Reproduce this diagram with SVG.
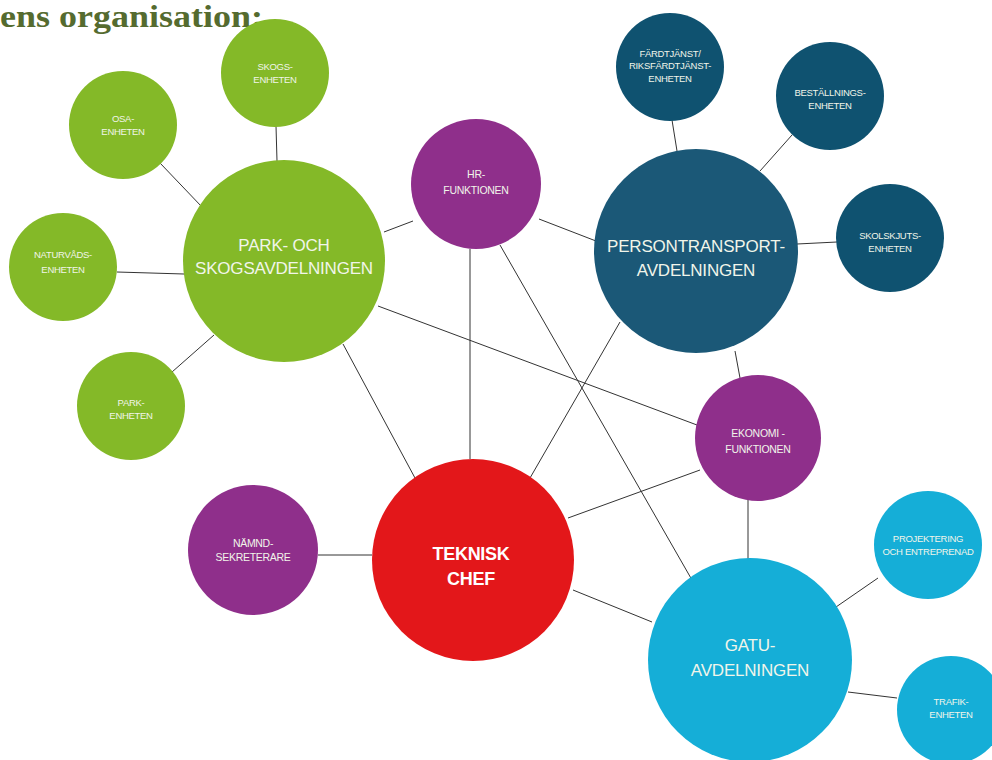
<svg xmlns="http://www.w3.org/2000/svg" width="992" height="760" viewBox="0 0 992 760">
  <style>
    .title { font-family: "Liberation Serif", "Times New Roman", serif; font-weight: bold; font-size: 31px; fill: #556b2f; }
    .green { fill: #84b928; }
    .blue { fill: #0f5270; }
    .blue-big { fill: #1b5877; }
    .purple { fill: #8f2f8b; }
    .red { fill: #e3171a; }
    .cyan { fill: #15aed7; }
    .lbl { font-family: "Liberation Sans", Arial, sans-serif; fill: #f1f5ea; text-anchor: middle; letter-spacing: -0.3px; }
    .s { font-size: 9.5px; }
    .m { font-size: 10.5px; }
    .l { font-size: 17px; letter-spacing: -0.2px; }
    .b { font-size: 18px; font-weight: bold; fill: #ffffff; }
    .links line { stroke: #333333; stroke-width: 1; }
  </style>

  <text class="title" x="0" y="27" textLength="263" lengthAdjust="spacingAndGlyphs">ens organisation:</text>

  <!-- connectors -->
  <g id="connectors" class="links">
    <line x1="276" y1="126" x2="277" y2="161"/>
    <line x1="160" y1="163" x2="202" y2="207"/>
    <line x1="117" y1="272" x2="184" y2="274"/>
    <line x1="172" y1="372" x2="214" y2="335"/>
    <line x1="384" y1="232" x2="413" y2="221"/>
    <line x1="539" y1="219" x2="596" y2="241"/>
    <line x1="672" y1="120" x2="677" y2="151"/>
    <line x1="792" y1="135" x2="760" y2="171"/>
    <line x1="837" y1="242" x2="797" y2="244"/>
    <line x1="735" y1="351" x2="740" y2="378"/>
    <line x1="378" y1="306" x2="697" y2="425"/>
    <line x1="343" y1="344" x2="415" y2="478"/>
    <line x1="470" y1="249" x2="470" y2="459"/>
    <line x1="500" y1="245" x2="692" y2="580"/>
    <line x1="620" y1="322" x2="530" y2="478"/>
    <line x1="700" y1="470" x2="568" y2="518"/>
    <line x1="748" y1="500" x2="748" y2="560"/>
    <line x1="318" y1="555" x2="372" y2="555"/>
    <line x1="573" y1="590" x2="652" y2="622"/>
    <line x1="836" y1="607" x2="878" y2="578"/>
    <line x1="848" y1="692" x2="897" y2="698"/>
  </g>

  <g id="skogsenheten">
    <circle class="green" cx="275" cy="73" r="54"/>
    <text class="lbl s" x="275" y="70">SKOGS-</text>
    <text class="lbl s" x="275" y="83">ENHETEN</text>
  </g>
  <g id="osaenheten">
    <circle class="green" cx="123" cy="125" r="54"/>
    <text class="lbl s" x="123" y="122">OSA-</text>
    <text class="lbl s" x="123" y="135">ENHETEN</text>
  </g>
  <g id="naturvardsenheten">
    <circle class="green" cx="63" cy="267" r="54"/>
    <text class="lbl s" x="63" y="258">NATURVÅDS-</text>
    <text class="lbl s" x="63" y="273">ENHETEN</text>
  </g>
  <g id="parkenheten">
    <circle class="green" cx="131" cy="406" r="54"/>
    <text class="lbl s" x="131" y="406">PARK-</text>
    <text class="lbl s" x="131" y="419">ENHETEN</text>
  </g>
  <g id="park-skog">
    <circle class="green" cx="284" cy="261" r="101"/>
    <text class="lbl l" x="284" y="251">PARK- OCH</text>
    <text class="lbl l" x="284" y="274">SKOGSAVDELNINGEN</text>
  </g>
  <g id="hr">
    <circle class="purple" cx="476" cy="184" r="65"/>
    <text class="lbl m" x="476" y="178">HR-</text>
    <text class="lbl m" x="476" y="194">FUNKTIONEN</text>
  </g>
  <g id="persontransport">
    <circle class="blue-big" cx="696" cy="251" r="102"/>
    <text class="lbl l" x="696" y="252">PERSONTRANSPORT-</text>
    <text class="lbl l" x="696" y="276">AVDELNINGEN</text>
  </g>
  <g id="fardtjanst">
    <circle class="blue" cx="670" cy="67" r="54"/>
    <text class="lbl s" x="670" y="57">FÄRDTJÄNST/</text>
    <text class="lbl s" x="670" y="69">RIKSFÄRDTJÄNST-</text>
    <text class="lbl s" x="670" y="82">ENHETEN</text>
  </g>
  <g id="bestallning">
    <circle class="blue" cx="830" cy="96" r="54"/>
    <text class="lbl s" x="830" y="96">BESTÄLLNINGS-</text>
    <text class="lbl s" x="830" y="109">ENHETEN</text>
  </g>
  <g id="skolskjuts">
    <circle class="blue" cx="890" cy="238" r="54"/>
    <text class="lbl s" x="890" y="239">SKOLSKJUTS-</text>
    <text class="lbl s" x="890" y="252">ENHETEN</text>
  </g>
  <g id="ekonomi">
    <circle class="purple" cx="758" cy="438" r="63"/>
    <text class="lbl m" x="758" y="437">EKONOMI -</text>
    <text class="lbl m" x="758" y="453">FUNKTIONEN</text>
  </g>
  <g id="namnd">
    <circle class="purple" cx="253" cy="550" r="65"/>
    <text class="lbl m" x="253" y="547">NÄMND-</text>
    <text class="lbl m" x="253" y="561">SEKRETERARE</text>
  </g>
  <g id="teknisk-chef">
    <circle class="red" cx="473" cy="560" r="101"/>
    <text class="lbl b" x="471" y="560">TEKNISK</text>
    <text class="lbl b" x="471" y="585">CHEF</text>
  </g>
  <g id="gatu">
    <circle class="cyan" cx="750" cy="660" r="102"/>
    <text class="lbl l" x="750" y="651">GATU-</text>
    <text class="lbl l" x="750" y="676">AVDELNINGEN</text>
  </g>
  <g id="projektering">
    <circle class="cyan" cx="928" cy="545" r="54"/>
    <text class="lbl s" x="928" y="542">PROJEKTERING</text>
    <text class="lbl s" x="928" y="555">OCH ENTREPRENAD</text>
  </g>
  <g id="trafik">
    <circle class="cyan" cx="951" cy="710" r="54"/>
    <text class="lbl s" x="951" y="705">TRAFIK-</text>
    <text class="lbl s" x="951" y="718">ENHETEN</text>
  </g>
</svg>
